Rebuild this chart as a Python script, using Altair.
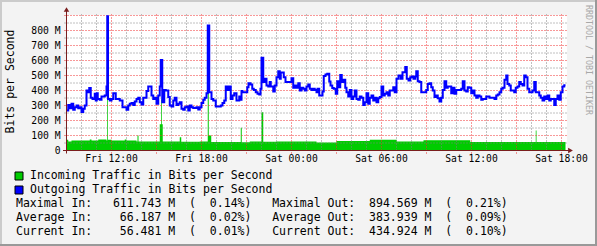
import altair as alt
import pandas as pd

# ---------------- data (minutes after Fri 09:00, values in M bit/s) -------------
out_min = [0, 7, 13, 20, 27, 33, 40, 47, 53, 60, 67, 73, 80, 84, 91, 97, 104, 113, 117, 121, 125, 133, 140,
           153, 160, 163, 166, 173, 180, 187, 197, 213, 224, 240, 247, 253, 260, 267, 273, 280, 287, 293, 300,
           307, 320, 327, 340, 347, 353, 360, 367, 373, 377, 383, 391, 397, 407, 413, 420, 427, 433, 440, 447,
           453, 460, 467, 473, 480, 487, 493, 500, 507, 520, 527, 533, 540, 547, 553, 560, 565, 571, 580, 587,
           597, 617, 624, 631, 637, 644, 651, 657, 664, 671,
           680, 691, 696, 700, 704, 723, 728, 736, 743, 749, 757, 764, 771, 776, 780, 787, 793, 800, 807, 813,
           817, 827, 833, 840, 847, 853, 857, 869, 876, 900, 907, 913, 920, 927, 933, 940, 947, 953, 960, 967,
           973, 980, 987, 993, 1000, 1004, 1011, 1024, 1029, 1036, 1043, 1051, 1056, 1063, 1069, 1077, 1083,
           1089, 1095, 1101, 1108, 1115, 1120, 1127, 1133, 1140, 1147, 1153, 1160, 1167, 1173, 1180, 1187,
           1193, 1200, 1207, 1213, 1220, 1227, 1233, 1240, 1247, 1253, 1260, 1267, 1273, 1280, 1287, 1293,
           1307, 1313, 1320,
           1328, 1337, 1344, 1355, 1361, 1368, 1375, 1381, 1388, 1395, 1399, 1405, 1412, 1419, 1439, 1445,
           1452, 1459, 1465, 1472, 1479, 1485, 1492, 1499, 1505, 1512, 1519, 1525, 1539, 1545, 1552, 1559,
           1579, 1585, 1592, 1599, 1605, 1612, 1619, 1625, 1632, 1639, 1645, 1652, 1659, 1665, 1679, 1692,
           1712, 1719, 1725, 1732, 1739, 1745, 1752, 1759, 1764, 1771, 1777, 1791, 1797, 1804, 1811, 1817,
           1824, 1831, 1837, 1844, 1851, 1864, 1871, 1877, 1891, 1897, 1904, 1911, 1917, 1924, 1931, 1937,
           1951, 1957, 1964, 1971, 1977, 1984, 1991, 1996]
out_val = [267, 304, 282, 311, 271, 289, 300, 282, 289, 256, 278, 300, 400, 389, 416, 351, 344, 378, 333, 382,
           344, 338, 360, 367, 427, 894.569, 344, 333, 344, 382, 344, 333, 289, 271, 300, 311, 316, 304, 327,
           344, 351, 322, 307, 351, 396, 427, 367, 344, 351, 311, 367, 427, 604, 322, 404, 400, 356, 300, 293,
           333, 351, 304, 311, 322, 278, 271, 289, 293, 267, 300, 289, 284, 289, 273, 289, 316, 338, 351, 382,
           833, 389, 344, 333, 293, 300, 316, 333, 427, 404, 427, 344, 367, 382,
           333, 360, 338, 396, 389, 422, 449, 440, 411, 404, 389, 378, 373, 411, 618, 456, 478, 433, 427, 456,
           427, 393, 433, 489, 529, 478, 520, 489, 456, 482, 418, 433, 418, 449, 400, 418, 411, 400, 427, 440,
           411, 404, 411, 404, 389, 411, 367, 393, 496, 507, 511, 460, 433, 416, 411, 378, 462,
           422, 504, 456, 471, 418, 389, 360, 404, 344, 360, 400, 344, 338, 360, 351, 304,
           322, 382, 311, 351, 367, 333, 351, 322, 349, 356, 427, 367, 378, 389, 367, 400,
           422, 389, 478,
           500, 478, 522, 556, 478, 467, 489, 493, 478, 493, 529, 462, 456, 389, 404, 444,
           449, 422, 400, 356, 367, 349, 327, 351, 404, 462, 418, 427, 382, 418, 378, 404,
           411, 462, 400, 393, 422, 418, 382, 400, 367, 351, 367, 360, 338, 344, 360, 351,
           344, 367, 373, 389, 411, 418, 471, 500, 444, 433, 400, 389, 418, 427, 456, 444,
           433, 500, 489, 411, 389, 400, 456, 389, 367, 351, 333, 360, 344, 367, 333, 344,
           304, 344, 367, 338, 389, 427, 434.924, 434.924]

in_min = [0, 7, 20, 93, 100, 127, 160, 163, 166, 180, 233, 240, 280, 284, 288, 373, 379, 382, 385, 453, 459,
          533, 565, 569, 579, 697, 701, 733, 780, 787, 840, 1000, 1080, 1213, 1321, 1428, 1615, 1877, 1880, 1996]
in_val = [71, 60, 67, 73, 67, 73, 67, 611.743, 71, 67, 73, 67, 60, 100, 60, 175, 340, 175, 60, 89, 58,
          60, 390, 100, 56, 151, 55, 60, 255, 58, 60, 53, 64, 71, 60, 69, 56, 133, 56, 56.481]

y_ticks = [0, 100, 200, 300, 400, 500, 600, 700, 800]
y_tick_lab = ["0  ", "100 M", "200 M", "300 M", "400 M", "500 M", "600 M", "700 M", "800 M"]
y_major = [100, 200, 300, 400, 500, 600, 700, 800, 900]
y_minor = [50, 150, 250, 350, 450, 550, 650, 750, 850]
x_major = [180, 360, 540, 720, 900, 1080, 1260, 1440, 1620, 1800, 1980]
x_minor = [m for m in range(60, 2000, 60) if m % 180 != 0]
x_tick_min = [180, 540, 900, 1260, 1620, 1980]
x_tick_lab = ["Fri 12:00", "Fri 18:00", "Sat 00:00", "Sat 06:00", "Sat 12:00", "Sat 18:00"]

legend_labels = ["Incoming Traffic in Bits per Second", "Outgoing Traffic in Bits per Second"]
stat_lab_in = ["Maximal In:", "Average In:", "Current In:"]
stat_in = [611.743, 66.187, 56.481]
stat_in_pct = [0.14, 0.02, 0.01]
stat_lab_out = ["Maximal Out:", "Average Out:", "Current Out:"]
stat_out = [894.569, 383.939, 434.924]
stat_out_pct = [0.21, 0.09, 0.10]

# ---------------- styling -------------
MONO = "DejaVu Sans Mono"
GREEN = "#00CC00"
BLUE = "#0000FF"
RED_GRID = "#F03030"
GRAY_GRID = "#808080"
AXIS_COL = "#7A1E1E"
NB = "\u00a0"
DASH = [1, 2]

xs = alt.Scale(domain=[0, 2000], nice=False, zero=False)
ys = alt.Scale(domain=[0, 906.67], nice=False, zero=False)

df_in = pd.DataFrame({"m": in_min, "v": in_val})
df_out = pd.DataFrame({"m": out_min, "v": out_val})
one = pd.DataFrame({"a": [0]})

X = alt.X("m:Q", scale=xs, axis=None)
Y = alt.Y("v:Q", scale=ys, axis=None)

area = alt.Chart(df_in).mark_area(interpolate="step-after", color=GREEN, opacity=1).encode(x=X, y=Y)


def hgrid(vals, color):
    return alt.Chart(pd.DataFrame({"v": vals})).mark_rule(color=color, strokeWidth=1, strokeDash=DASH).encode(
        y=Y, x=alt.value(-2), x2=alt.value(500))


def vgrid(vals, color, ext):
    return alt.Chart(pd.DataFrame({"m": vals})).mark_rule(color=color, strokeWidth=1, strokeDash=DASH).encode(
        x=X, y=alt.value(0), y2=alt.value(ext))


line = alt.Chart(df_out).mark_line(interpolate="step-after", color=BLUE, strokeWidth=2).encode(x=X, y=Y)


def rule(x, x2, y, y2, color, w=1):
    return alt.Chart(one).mark_rule(color=color, strokeWidth=w).encode(
        x=alt.value(x), x2=alt.value(x2), y=alt.value(y), y2=alt.value(y2))


def text(t, x, y, size, align="left", angle=0, color="black"):
    return alt.Chart(pd.DataFrame({"t": [t]})).mark_text(
        align=align, baseline="middle", font=MONO, fontSize=size, color=color, angle=angle).encode(
        x=alt.value(x), y=alt.value(y), text="t:N")


xlabels = alt.Chart(pd.DataFrame({"m": x_tick_min, "t": x_tick_lab})).mark_text(
    align="center", baseline="middle", font=MONO, fontSize=9.7, color="black").encode(
    x=X, y=alt.value(144.5), text="t:N")
ylabels = alt.Chart(pd.DataFrame({"v": y_ticks, "t": [s.replace(" ", NB) for s in y_tick_lab]})).mark_text(
    align="right", baseline="middle", font=MONO, fontSize=9.7, color="black").encode(
    y=Y, x=alt.value(-6), text="t:N")

layers = [
    area,
    hgrid(y_minor, GRAY_GRID), vgrid(x_minor, GRAY_GRID, 138),
    hgrid(y_major, RED_GRID), vgrid(x_major, RED_GRID, 139),
    line,
    rule(-3.5, 503, 136, 136, AXIS_COL),
    rule(0, 0, -6, 139, AXIS_COL),
    alt.Chart(one).mark_point(shape="triangle-up", filled=True, size=30, color=AXIS_COL, opacity=1).encode(
        x=alt.value(0), y=alt.value(-5)),
    alt.Chart(one).mark_point(shape="triangle-right", filled=True, size=30, color=AXIS_COL, opacity=1).encode(
        x=alt.value(504), y=alt.value(136)),
    xlabels, ylabels,
    # frame
    rule(-66.5, 530.5, -13.5, -13.5, "#CBCBCB", 2),
    rule(-65.5, -65.5, -14.5, 231.5, "#CBCBCB", 2),
    rule(-66.5, 530.5, 230.5, 230.5, "#999999", 2),
    rule(529.5, 529.5, -14.5, 231.5, "#999999", 2),
    # titles
    text("Bits per Second", -56, 67, 11.5, align="center", angle=270),
    text("RRDTOOL / TOBI OETIKER", 521, 45.5, 8.3, align="center", angle=90, color="#A8A8A8"),
    # legend
    alt.Chart(one).mark_square(size=64, color=GREEN, stroke="black", strokeWidth=1, opacity=1).encode(
        x=alt.value(-47.5), y=alt.value(161.5)),
    alt.Chart(one).mark_square(size=64, color=BLUE, stroke="black", strokeWidth=1, opacity=1).encode(
        x=alt.value(-47.5), y=alt.value(175.5)),
    text(legend_labels[0], -36.5, 161.5, 11.5),
    text(legend_labels[1], -36.5, 175.5, 11.5),
]

for i in range(3):
    row = (f"{stat_lab_in[i]:<14}{stat_in[i]:7.3f} M  ({stat_in_pct[i]:6.2f}%)   "
           f"{stat_lab_out[i]:<14}{stat_out[i]:7.3f} M  ({stat_out_pct[i]:6.2f}%)").replace(" ", NB)
    layers.append(text(row, -50.5, 189.5 + 14 * i, 11.5))

chart = alt.layer(*layers).properties(
    width=500, height=136,
    padding={"left": 66.5, "top": 14.5, "right": 30.5, "bottom": 95.5},
    autosize=alt.AutoSizeParams(type="none"),
    background="#F3F3F3",
).configure_view(fill="white", stroke="transparent")

chart.save("out.html", embed_options={"renderer": "svg", "actions": False})
